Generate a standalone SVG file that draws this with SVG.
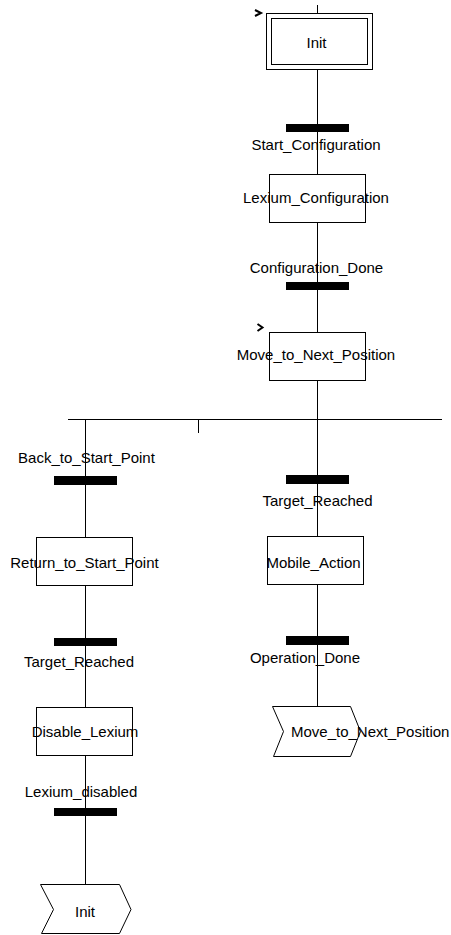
<svg xmlns="http://www.w3.org/2000/svg" width="451" height="935" viewBox="0 0 451 935">
<style>
.ln{stroke:#000;stroke-width:1;fill:none}
.box{fill:#fff;stroke:#000;stroke-width:1}
.bar{fill:#000}
.t{font-family:"Liberation Sans",Arial,sans-serif;font-size:15px;fill:#000}
.m{text-anchor:middle}
.ini{fill:none;stroke:#000;stroke-width:2}
</style>
<rect width="451" height="935" fill="#fff"/>
<g id="connectors">
<line class="ln" x1="317.5" y1="5" x2="317.5" y2="419.5"/>
<line class="ln" x1="68" y1="419.5" x2="442" y2="419.5"/>
<line class="ln" x1="198.5" y1="419.5" x2="198.5" y2="433"/>
<line class="ln" x1="317.5" y1="419.5" x2="317.5" y2="706.5"/>
<line class="ln" x1="85.5" y1="419.5" x2="85.5" y2="885"/>
</g>
<g id="step_Init">
<rect class="box" x="266.5" y="13.5" width="106" height="56"/>
<rect class="box" x="271.5" y="18.5" width="96" height="46"/>
<polyline class="ini" points="255,10 261,13 255,16"/>
<text class="t m" x="316.5" y="48">Init</text>
</g>
<g id="tr_Start_Configuration">
<rect class="bar" x="286" y="124" width="63" height="8"/>
<text class="t m" x="316" y="150">Start_Configuration</text>
</g>
<g id="step_Lexium_Configuration">
<rect class="box" x="269.5" y="174.5" width="96" height="48"/>
<text class="t m" x="316" y="203">Lexium_Configuration</text>
</g>
<g id="tr_Configuration_Done">
<rect class="bar" x="286" y="282" width="63" height="8"/>
<text class="t m" x="316.5" y="273">Configuration_Done</text>
</g>
<g id="step_Move_to_Next_Position">
<rect class="box" x="269.5" y="332.5" width="96" height="48"/>
<polyline class="ini" points="257.5,324 262.5,327.5 257.5,331"/>
<text class="t m" x="316" y="360">Move_to_Next_Position</text>
</g>
<g id="tr_Back_to_Start_Point">
<rect class="bar" x="54" y="476" width="63" height="9"/>
<text class="t m" x="86.5" y="463">Back_to_Start_Point</text>
</g>
<g id="tr_Target_Reached_R">
<rect class="bar" x="286" y="475" width="63" height="9"/>
<text class="t m" x="317.5" y="506">Target_Reached</text>
</g>
<g id="step_Return_to_Start_Point">
<rect class="box" x="36.5" y="537.5" width="96" height="48"/>
<text class="t m" x="84.5" y="568">Return_to_Start_Point</text>
</g>
<g id="step_Mobile_Action">
<rect class="box" x="267.5" y="536.5" width="96" height="48"/>
<text class="t m" x="313.5" y="568">Mobile_Action</text>
</g>
<g id="tr_Target_Reached_L">
<rect class="bar" x="54" y="638" width="63" height="8"/>
<text class="t m" x="79" y="667">Target_Reached</text>
</g>
<g id="tr_Operation_Done">
<rect class="bar" x="286" y="636" width="63" height="9"/>
<text class="t m" x="305" y="663">Operation_Done</text>
</g>
<g id="step_Disable_Lexium">
<rect class="box" x="36.5" y="707.5" width="96" height="48"/>
<text class="t m" x="85" y="737">Disable_Lexium</text>
</g>
<g id="jump_Move_to_Next_Position">
<polygon class="box" points="272.5,706.5 350.5,706.5 360.5,731.5 350.5,756.5 273.5,756.5 283.5,731.5"/>
<text class="t" x="291" y="737">Move_to_Next_Position</text>
</g>
<g id="tr_Lexium_disabled">
<rect class="bar" x="54" y="808" width="63" height="8"/>
<text class="t m" x="81" y="797">Lexium_disabled</text>
</g>
<g id="jump_Init">
<polygon class="box" points="40.5,884.5 119.5,884.5 131,909.5 119.5,933.5 41.5,933.5 53.5,909.5"/>
<text class="t m" x="85" y="917">Init</text>
</g>
</svg>
